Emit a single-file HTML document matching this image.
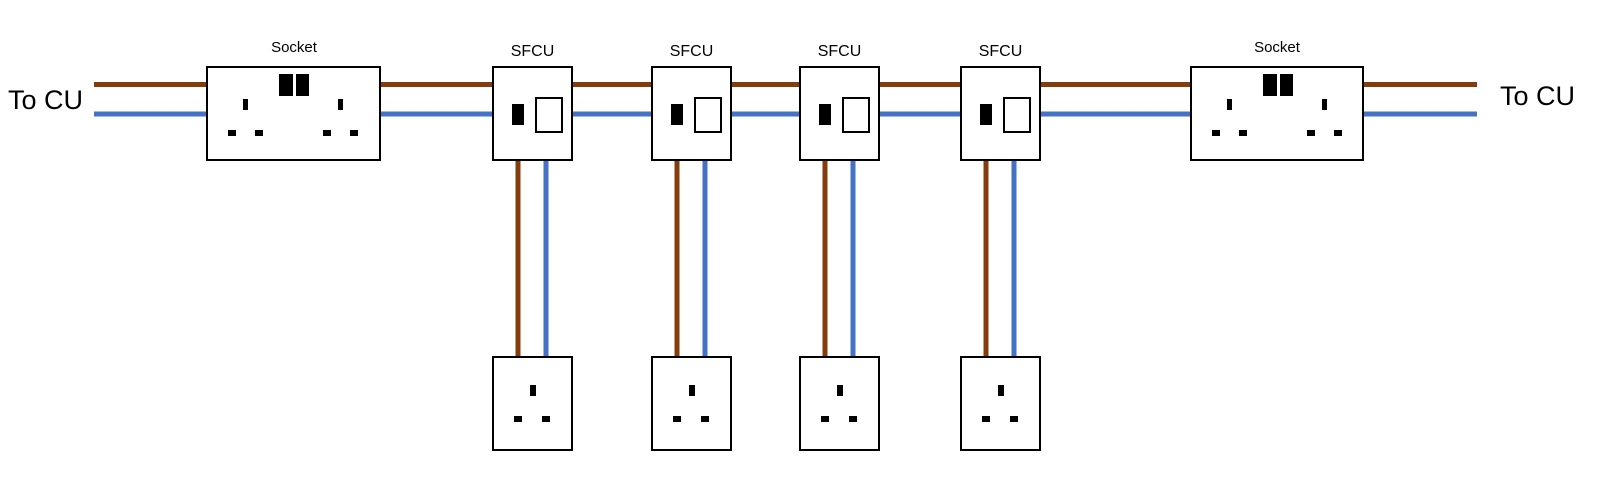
<!DOCTYPE html>
<html><head><meta charset="utf-8"><style>
html,body{margin:0;padding:0;background:#fff;}
svg{display:block;}
text{font-family:"Liberation Sans",sans-serif;fill:#000;}
</style></head><body>
<svg width="1600" height="487" viewBox="0 0 1600 487" xmlns="http://www.w3.org/2000/svg">
<rect width="1600" height="487" fill="#fff"/>
<!-- main wires -->
<line x1="94" y1="84.5" x2="1477" y2="84.5" stroke="#843c0c" stroke-width="5"/>
<line x1="94" y1="114" x2="1477" y2="114" stroke="#4472c4" stroke-width="5"/>
<!-- vertical wires -->
<g stroke-width="5">
<line x1="518" y1="160" x2="518" y2="358" stroke="#843c0c"/><line x1="546" y1="160" x2="546" y2="358" stroke="#4472c4"/>
<line x1="677" y1="160" x2="677" y2="358" stroke="#843c0c"/><line x1="705" y1="160" x2="705" y2="358" stroke="#4472c4"/>
<line x1="825" y1="160" x2="825" y2="358" stroke="#843c0c"/><line x1="853" y1="160" x2="853" y2="358" stroke="#4472c4"/>
<line x1="986" y1="160" x2="986" y2="358" stroke="#843c0c"/><line x1="1014" y1="160" x2="1014" y2="358" stroke="#4472c4"/>
</g>
<!-- double sockets -->
<g id="ds1" transform="translate(207,67)">
<rect x="0" y="0" width="173" height="93" fill="#fff" stroke="#000" stroke-width="2"/>
<rect x="72" y="7" width="14" height="22" fill="#000"/><rect x="89" y="7" width="13" height="22" fill="#000"/>
<rect x="36" y="32" width="5" height="11" fill="#000"/><rect x="131" y="32" width="5" height="11" fill="#000"/>
<rect x="21" y="63" width="8" height="6" fill="#000"/><rect x="48" y="63" width="8" height="6" fill="#000"/>
<rect x="116" y="63" width="8" height="6" fill="#000"/><rect x="143" y="63" width="8" height="6" fill="#000"/>
</g>
<g transform="translate(1191,67)">
<rect x="0" y="0" width="172" height="93" fill="#fff" stroke="#000" stroke-width="2"/>
<rect x="72" y="7" width="14" height="22" fill="#000"/><rect x="89" y="7" width="13" height="22" fill="#000"/>
<rect x="36" y="32" width="5" height="11" fill="#000"/><rect x="131" y="32" width="5" height="11" fill="#000"/>
<rect x="21" y="63" width="8" height="6" fill="#000"/><rect x="48" y="63" width="8" height="6" fill="#000"/>
<rect x="116" y="63" width="8" height="6" fill="#000"/><rect x="143" y="63" width="8" height="6" fill="#000"/>
</g>
<!-- SFCUs and single sockets -->
<g transform="translate(493,0)">
<rect x="0" y="67" width="79" height="93" fill="#fff" stroke="#000" stroke-width="2"/>
<rect x="19" y="104" width="12" height="21" fill="#000"/><rect x="43" y="98" width="26" height="34" fill="#fff" stroke="#000" stroke-width="2"/>
<rect x="0" y="357" width="79" height="93" fill="#fff" stroke="#000" stroke-width="2"/>
<rect x="37" y="385" width="6" height="11" fill="#000"/><rect x="21" y="416" width="8" height="6" fill="#000"/><rect x="49" y="416" width="8" height="6" fill="#000"/>
<text x="39.5" y="56" font-size="16" text-anchor="middle">SFCU</text>
</g>
<g transform="translate(652,0)">
<rect x="0" y="67" width="79" height="93" fill="#fff" stroke="#000" stroke-width="2"/>
<rect x="19" y="104" width="12" height="21" fill="#000"/><rect x="43" y="98" width="26" height="34" fill="#fff" stroke="#000" stroke-width="2"/>
<rect x="0" y="357" width="79" height="93" fill="#fff" stroke="#000" stroke-width="2"/>
<rect x="37" y="385" width="6" height="11" fill="#000"/><rect x="21" y="416" width="8" height="6" fill="#000"/><rect x="49" y="416" width="8" height="6" fill="#000"/>
<text x="39.5" y="56" font-size="16" text-anchor="middle">SFCU</text>
</g>
<g transform="translate(800,0)">
<rect x="0" y="67" width="79" height="93" fill="#fff" stroke="#000" stroke-width="2"/>
<rect x="19" y="104" width="12" height="21" fill="#000"/><rect x="43" y="98" width="26" height="34" fill="#fff" stroke="#000" stroke-width="2"/>
<rect x="0" y="357" width="79" height="93" fill="#fff" stroke="#000" stroke-width="2"/>
<rect x="37" y="385" width="6" height="11" fill="#000"/><rect x="21" y="416" width="8" height="6" fill="#000"/><rect x="49" y="416" width="8" height="6" fill="#000"/>
<text x="39.5" y="56" font-size="16" text-anchor="middle">SFCU</text>
</g>
<g transform="translate(961,0)">
<rect x="0" y="67" width="79" height="93" fill="#fff" stroke="#000" stroke-width="2"/>
<rect x="19" y="104" width="12" height="21" fill="#000"/><rect x="43" y="98" width="26" height="34" fill="#fff" stroke="#000" stroke-width="2"/>
<rect x="0" y="357" width="79" height="93" fill="#fff" stroke="#000" stroke-width="2"/>
<rect x="37" y="385" width="6" height="11" fill="#000"/><rect x="21" y="416" width="8" height="6" fill="#000"/><rect x="49" y="416" width="8" height="6" fill="#000"/>
<text x="39.5" y="56" font-size="16" text-anchor="middle">SFCU</text>
</g>
<text x="294" y="52" font-size="15" text-anchor="middle">Socket</text>
<text x="1277" y="52" font-size="15" text-anchor="middle">Socket</text>
<text x="8" y="109" font-size="27">To CU</text>
<text x="1500" y="105" font-size="27">To CU</text>
</svg>
</body></html>
